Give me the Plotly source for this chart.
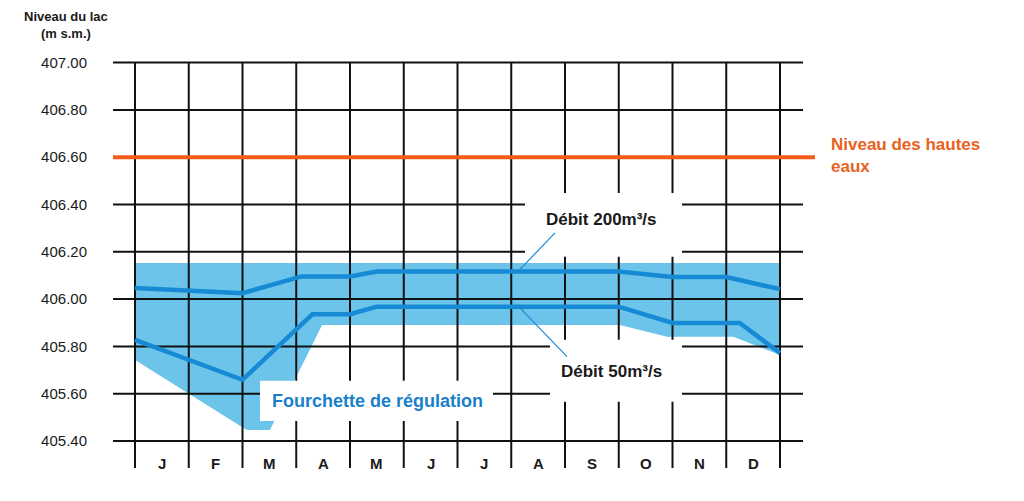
import numpy as np
import plotly.graph_objects as go

# ---------------- data ----------------
MONTHS = ["J", "F", "M", "A", "M", "J", "J", "A", "S", "O", "N", "D"]
Y_TICKS = [405.40, 405.60, 405.80, 406.00, 406.20, 406.40, 406.60, 406.80, 407.00]
HIGH_WATER = 406.60

# Débit 200 m³/s  (x in months from 1 Jan, 0..12)
D200_X = [0, 2, 3.1, 4, 4.5, 9, 10, 11.0, 12]
D200_Y = [406.047, 406.025, 406.096, 406.096, 406.117, 406.117, 406.093, 406.093, 406.042]

# Débit 50 m³/s
D50_X = [0, 2, 3.3, 4, 4.5, 9, 10, 11.25, 12]
D50_Y = [405.828, 405.659, 405.936, 405.936, 405.968, 405.968, 405.899, 405.899, 405.772]

# Fourchette de régulation (band)
BAND_TOP = 406.153
BAND_LOW_X = [0, 2.08, 2.51, 3.48, 9.02, 9.9, 11.13, 12]
BAND_LOW_Y = [405.743, 405.447, 405.447, 405.891, 405.891, 405.841, 405.841, 405.764]

# ---------------- style ----------------
FONT = "Liberation Sans, Arial, sans-serif"
BLUE = "#168AD4"
BAND = "#6CC4EA"
ORANGE = "#F25C19"
ORANGE_TXT = "#E8621E"
GRID = "#111111"
TXT = "#1a1a1a"

W, H = 1016, 493          # page adds an 8px body margin
X_RANGE = [-0.4093, 16.5395]
Y_RANGE = [405.1463, 407.2309]
GRID_X0, GRID_X1 = -0.409, 12.428        # horizontal grid extent
VGRID_Y0 = 405.286                       # vertical grid bottom
HW_X1 = 12.651                           # end of high-water line

fig = go.Figure()

# band
bx = [0, 12] + BAND_LOW_X[::-1]
by = [BAND_TOP, BAND_TOP] + BAND_LOW_Y[::-1]
fig.add_trace(go.Scatter(x=bx, y=by, fill="toself", fillcolor=BAND,
                         line=dict(width=0), mode="lines", hoverinfo="skip"))

# grid (horizontal)
hx, hy = [], []
for v in Y_TICKS:
    hx += [GRID_X0, GRID_X1, None]
    hy += [v, v, None]
fig.add_trace(go.Scatter(x=hx, y=hy, mode="lines", line=dict(color=GRID, width=2),
                         hoverinfo="skip"))
# grid (vertical)
vx, vy = [], []
for i in range(len(MONTHS) + 1):
    vx += [i, i, None]
    vy += [VGRID_Y0, Y_TICKS[-1], None]
fig.add_trace(go.Scatter(x=vx, y=vy, mode="lines", line=dict(color=GRID, width=2),
                         hoverinfo="skip"))

# high water level
fig.add_trace(go.Scatter(x=[GRID_X0, HW_X1], y=[HIGH_WATER, HIGH_WATER], mode="lines",
                         line=dict(color=ORANGE, width=4), hoverinfo="skip"))

# flow lines
fig.add_trace(go.Scatter(x=D200_X, y=D200_Y, mode="lines",
                         line=dict(color=BLUE, width=4.5), hoverinfo="skip"))
fig.add_trace(go.Scatter(x=D50_X, y=D50_Y, mode="lines",
                         line=dict(color=BLUE, width=4.5), hoverinfo="skip"))

# white label boxes (cover grid + band)
boxes = [
    (7.256, 10.177, 406.179, 406.449),
    (7.721, 10.177, 405.566, 405.828),
    (2.326, 6.660, 405.485, 405.655),
]
for x0, x1, y0, y1 in boxes:
    fig.add_shape(type="rect", xref="x", yref="y", x0=x0, x1=x1, y0=y0, y1=y1,
                  fillcolor="white", line=dict(width=0), layer="above")

# leader lines
lx200 = 7.126
fig.add_shape(type="line", xref="x", yref="y", x0=7.814, y0=406.280,
              x1=lx200, y1=float(np.interp(lx200, D200_X, D200_Y)),
              line=dict(color=BLUE, width=1.2), layer="above")
lx50 = 7.14
fig.add_shape(type="line", xref="x", yref="y", x0=8.037, y0=405.757,
              x1=lx50, y1=float(np.interp(lx50, D50_X, D50_Y)),
              line=dict(color=BLUE, width=1.2), layer="above")

ann = []
# month labels
for i, m in enumerate(MONTHS):
    ann.append(dict(x=i + 0.5, y=405.307, text=m, showarrow=False,
                    font=dict(family=FONT, size=15, color=TXT, weight="bold"),
                    xanchor="center", yanchor="middle"))
# title (outside plot area -> paper coords)
ann.append(dict(xref="paper", yref="paper", x=-0.0521, y=1.0,
                text="Niveau du lac<br>(m s.m.)", showarrow=False,
                font=dict(family=FONT, size=13, color=TXT, weight="bold"),
                xanchor="center", yanchor="top", align="center", borderpad=0))
# high water label
ann.append(dict(x=12.912, y=406.607, text="Niveau des hautes<br>eaux", showarrow=False,
                font=dict(family=FONT, size=17, color=ORANGE_TXT, weight="bold"),
                xanchor="left", yanchor="middle", align="left"))
# flow labels
ann.append(dict(x=8.67, y=406.335, text="Débit 200m³/s", showarrow=False,
                font=dict(family=FONT, size=17, color=TXT, weight="bold"),
                xanchor="center", yanchor="middle"))
ann.append(dict(x=8.874, y=405.695, text="Débit 50m³/s", showarrow=False,
                font=dict(family=FONT, size=17, color=TXT, weight="bold"),
                xanchor="center", yanchor="middle"))
ann.append(dict(x=4.52, y=405.568, text="Fourchette de régulation", showarrow=False,
                font=dict(family=FONT, size=18, color="#1A7FCB", weight="bold"),
                xanchor="center", yanchor="middle"))

fig.update_layout(
    template="none",
    width=W, height=H,
    margin=dict(l=105, r=0, t=0, b=0, pad=0),
    paper_bgcolor="white", plot_bgcolor="white",
    showlegend=False,
    annotations=ann,
    xaxis=dict(range=X_RANGE, visible=False, automargin=False, fixedrange=True),
    yaxis=dict(range=Y_RANGE, tickvals=Y_TICKS, ticktext=[f"{v:.2f}" for v in Y_TICKS],
               showgrid=False, zeroline=False, showline=False, ticks="",
               ticklabelstandoff=25, automargin=False,
               tickfont=dict(family=FONT, size=15, color=TXT), fixedrange=True),
)

fig.write_html("out.html")
